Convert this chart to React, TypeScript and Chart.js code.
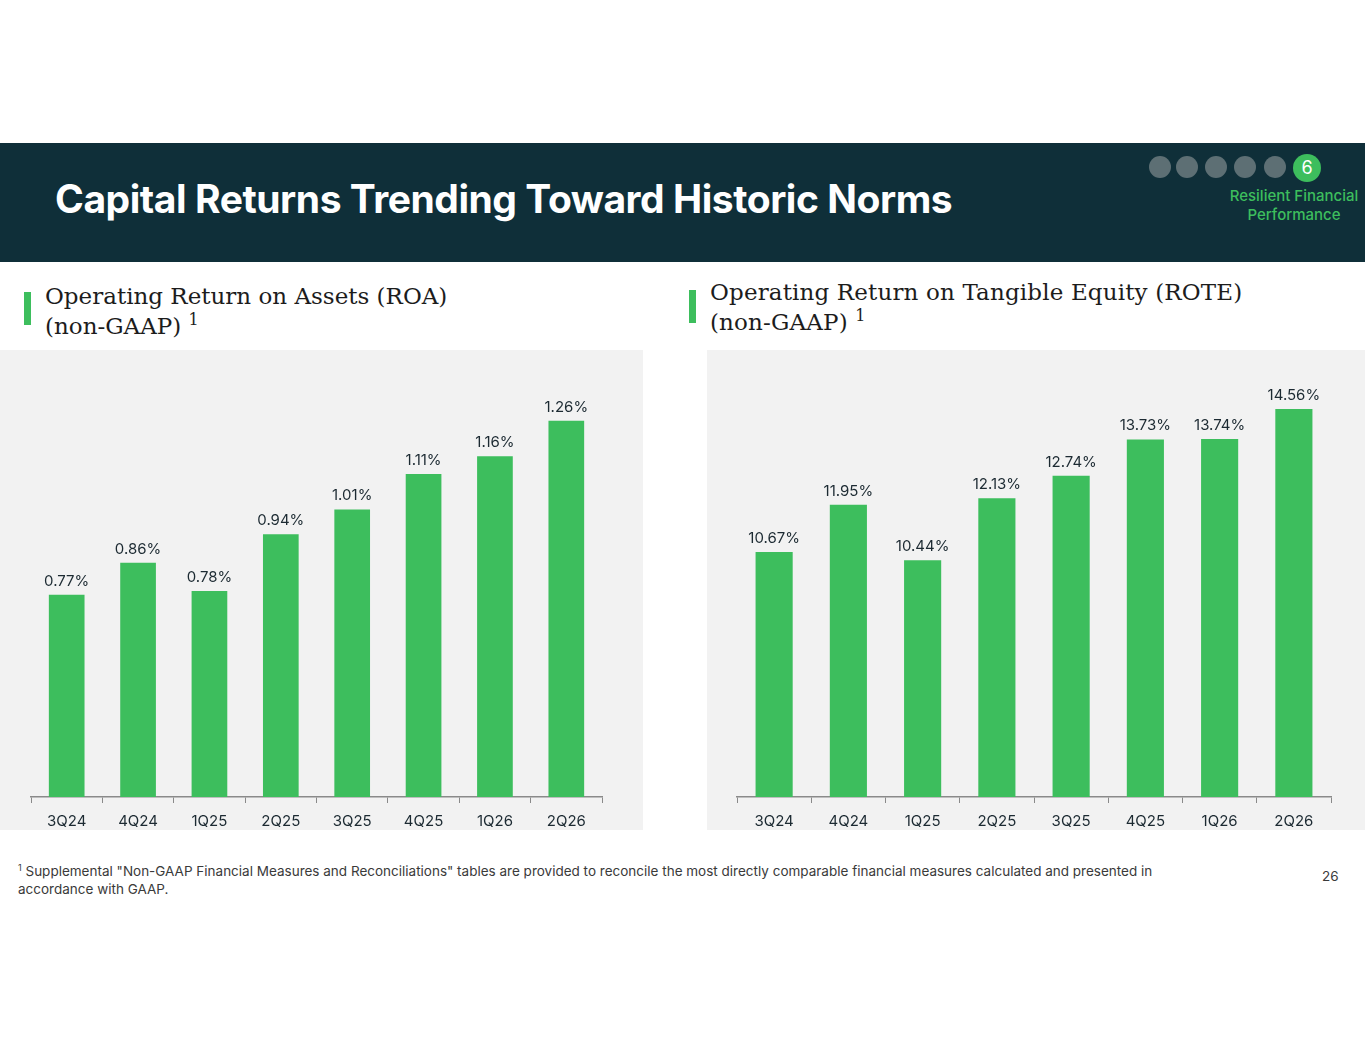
import React, { useRef, useEffect } from 'react';
import { Chart, registerables } from 'chart.js';

Chart.register(...registerables);

const quarters = ['3Q24', '4Q24', '1Q25', '2Q25', '3Q25', '4Q25', '1Q26', '2Q26'];
const roaValues = [0.77, 0.86, 0.78, 0.94, 1.01, 1.11, 1.16, 1.26];
const roteValues = [10.67, 11.95, 10.44, 12.13, 12.74, 13.73, 13.74, 14.56];

const GREEN = '#3dbe5d';
const DARK = '#0f2f39';
const SANS = 'Inter, "Noto Sans", sans-serif';
const SERIF = '"DejaVu Serif", serif';

// draws the value above each bar
const valueLabels = {
  id: 'valueLabels',
  afterDatasetsDraw(chart: Chart) {
    const ctx = chart.ctx;
    const meta = chart.getDatasetMeta(0);
    const data = chart.data.datasets[0].data as number[];
    ctx.save();
    ctx.fillStyle = '#1c2a32';
    ctx.font = `15px ${SANS}`;
    ctx.textAlign = 'center';
    ctx.textBaseline = 'bottom';
    meta.data.forEach((bar: any, i: number) => {
      ctx.fillText(data[i].toFixed(2) + '%', bar.x, bar.y - 6);
    });
    ctx.restore();
  },
};

interface BarChartProps {
  data: number[];
  min: number;
  max: number;
  padding: { left: number; right: number; top: number; bottom: number };
}

const BarChart: React.FC<BarChartProps> = ({ data, min, max, padding }) => {
  const canvasRef = useRef<HTMLCanvasElement>(null);
  const chartRef = useRef<Chart | null>(null);

  useEffect(() => {
    if (!canvasRef.current) return;
    if (chartRef.current) chartRef.current.destroy();
    chartRef.current = new Chart(canvasRef.current, {
      type: 'bar',
      data: {
        labels: quarters,
        datasets: [{
          data,
          backgroundColor: GREEN,
          barPercentage: 0.5,
          categoryPercentage: 1,
        }],
      },
      options: {
        animation: false,
        responsive: true,
        maintainAspectRatio: false,
        layout: { padding },
        plugins: {
          legend: { display: false },
          tooltip: { enabled: false },
        },
        scales: {
          x: {
            grid: {
              offset: true,
              drawOnChartArea: false,
              drawTicks: true,
              tickLength: 6,
              color: '#8a8a8a',
            },
            border: { color: '#8a8a8a', width: 1.5 },
            ticks: {
              color: '#1c2a32',
              font: { family: SANS, size: 15 },
              padding: 9,
            },
          },
          y: { display: false, min, max },
        },
      },
      plugins: [valueLabels],
    });
    return () => {
      if (chartRef.current) {
        chartRef.current.destroy();
        chartRef.current = null;
      }
    };
  }, [data, min, max, padding]);

  return <canvas ref={canvasRef} />;
};

const subtitleStyle: React.CSSProperties = {
  position: 'absolute',
  fontFamily: SERIF,
  fontSize: 23,
  lineHeight: '30px',
  color: '#1c1c1c',
  margin: 0,
};

const markerStyle: React.CSSProperties = {
  position: 'absolute',
  width: 7,
  height: 33,
  background: GREEN,
};

const supStyle: React.CSSProperties = { fontSize: 16, verticalAlign: 'super', lineHeight: 0 };

const roaPadding = { left: 31, right: 41, top: 21, bottom: 1 };
const rotePadding = { left: 30, right: 34, top: 6, bottom: 1 };

export default function App() {
  return (
    <div style={{ position: 'absolute', left: 0, top: 0, width: 1365, height: 1055, background: '#fff', overflow: 'hidden', fontFamily: SANS }}>
      {/* header band */}
      <div style={{ position: 'absolute', left: 0, top: 143, width: 1365, height: 119, background: DARK }}>
        <div style={{ position: 'absolute', left: 55, top: 32, color: '#fff', fontSize: 39, fontWeight: 700, letterSpacing: -0.45 }}>
          Capital Returns Trending Toward Historic Norms
        </div>
        {[1160, 1187, 1216, 1245, 1275].map((x) => (
          <div key={x} style={{ position: 'absolute', left: x - 11, top: 13, width: 22, height: 22, borderRadius: 11, background: '#5d6f74' }} />
        ))}
        <div style={{ position: 'absolute', left: 1293, top: 11, width: 28, height: 28, borderRadius: 14, background: GREEN, color: '#fff', fontSize: 18, lineHeight: '28px', textAlign: 'center' }}>6</div>
        <div style={{ position: 'absolute', left: 1220, top: 43, width: 148, textAlign: 'center', color: GREEN, fontSize: 15, lineHeight: '19px', fontWeight: 500 }}>
          Resilient Financial<br />Performance
        </div>
      </div>

      {/* left subtitle */}
      <div style={{ ...markerStyle, left: 24, top: 292 }} />
      <div style={{ ...subtitleStyle, left: 45, top: 281 }}>
        Operating Return on Assets (ROA)<br />(non-GAAP) <span style={supStyle}>1</span>
      </div>

      {/* right subtitle */}
      <div style={{ ...markerStyle, left: 689, top: 290 }} />
      <div style={{ ...subtitleStyle, left: 710, top: 277, letterSpacing: 0.15 }}>
        Operating Return on Tangible Equity (ROTE)<br />(non-GAAP) <span style={supStyle}>1</span>
      </div>

      {/* chart panels */}
      <div style={{ position: 'absolute', left: 0, top: 350, width: 643, height: 480, background: '#f2f2f2' }} />
      <div style={{ position: 'absolute', left: 707, top: 350, width: 658, height: 480, background: '#f2f2f2' }} />
      <div style={{ position: 'absolute', left: 0, top: 350, width: 643, height: 490 }}>
        <BarChart data={roaValues} min={0.2} max={1.4} padding={roaPadding} />
      </div>
      <div style={{ position: 'absolute', left: 707, top: 350, width: 658, height: 490 }}>
        <BarChart data={roteValues} min={4} max={16} padding={rotePadding} />
      </div>

      {/* footnote */}
      <div style={{ position: 'absolute', left: 18, top: 862, width: 1160, fontSize: 13.5, lineHeight: '18px', color: '#3a3a3a' }}>
        <span style={{ fontSize: 9, verticalAlign: 'super', lineHeight: 0 }}>1</span> Supplemental "Non-GAAP Financial Measures and Reconciliations" tables are provided to reconcile the most directly comparable financial measures calculated and presented in accordance with GAAP.
      </div>
      <div style={{ position: 'absolute', left: 1322, top: 868, fontSize: 13.5, color: '#3a3a3a' }}>26</div>
    </div>
  );
}
